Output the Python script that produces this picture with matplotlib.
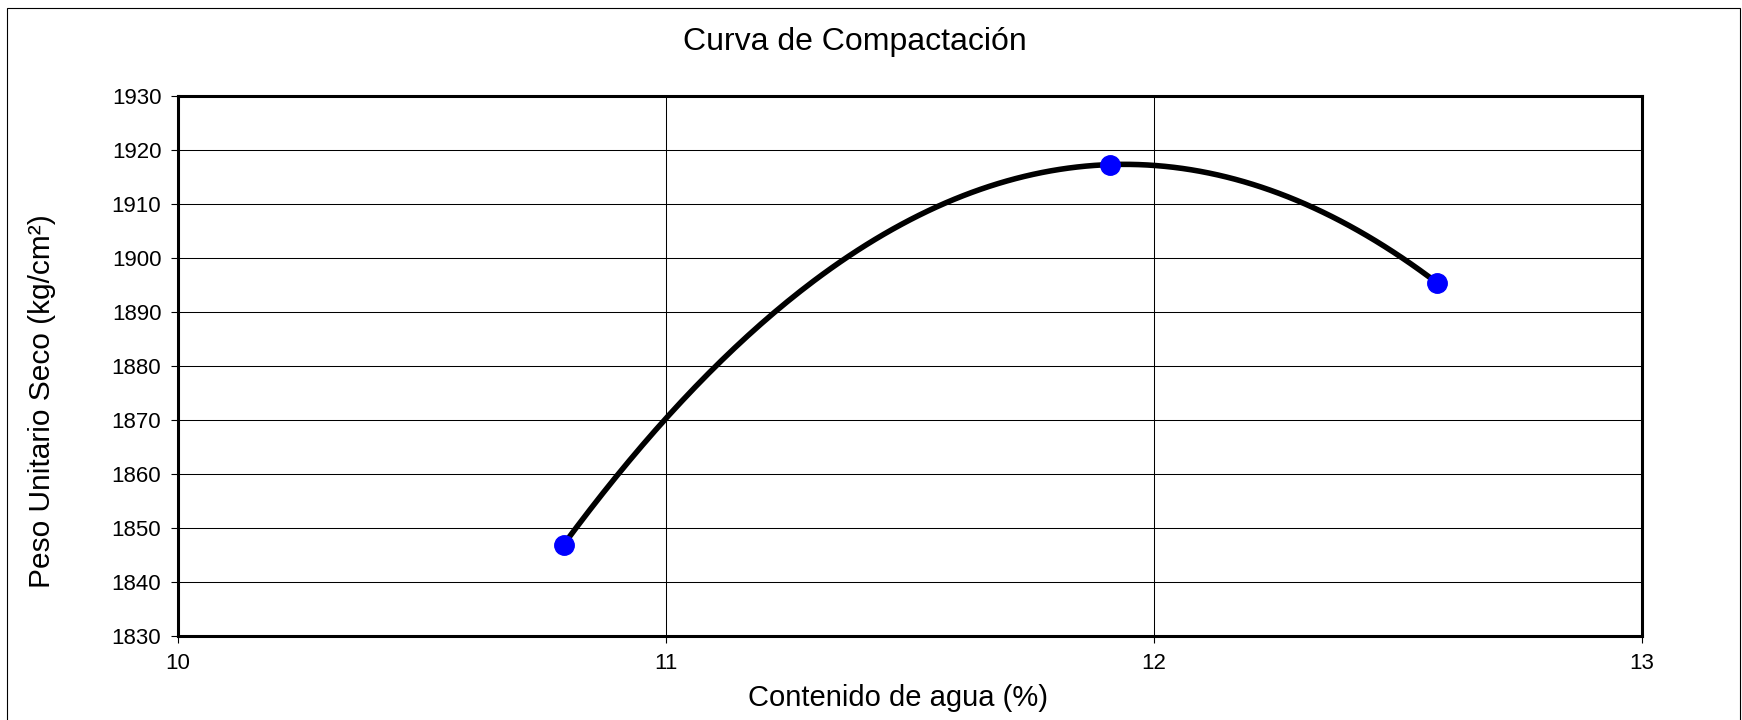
import numpy as np
import matplotlib
matplotlib.use('Agg')
import matplotlib.pyplot as plt
from matplotlib.patches import Rectangle

plt.rcParams['font.family'] = ['Liberation Sans', 'DejaVu Sans']

# datos del ensayo
humedad = [10.79, 11.91, 12.58]
peso_seco = [1846.9, 1917.3, 1895.4]
x_ticks = [10, 11, 12, 13]
y_ticks = list(range(1830, 1931, 10))

W, H = 1742, 720
fig = plt.figure(figsize=(W / 100, H / 100), dpi=100)
ax = fig.add_axes([178 / W, 1 - 636 / H, (1642 - 178) / W, (636 - 96) / H])

ax.set_xlim(10, 13)
ax.set_ylim(1830, 1930)
ax.set_xticks(x_ticks)
ax.set_yticks(y_ticks)
ax.grid(True, color='black', linewidth=0.75)
ax.set_axisbelow(True)
for s in ax.spines.values():
    s.set_linewidth(2.2)
ax.tick_params(direction='out', length=5, width=0.8, labelsize=16, pad=7)

# linea de tendencia polinomica de orden 2
coef = np.polyfit(humedad, peso_seco, 2)
xs = np.linspace(min(humedad), max(humedad), 200)
ax.plot(xs, np.polyval(coef, xs), color='black', linewidth=4, zorder=3)
ax.plot(humedad, peso_seco, 'o', color='#0000ff', markersize=14, zorder=4)

fig.text(855 / W, 1 - 42 / H, 'Curva de Compactación', ha='center', va='center', fontsize=23)
fig.text(898 / W, 1 - 698 / H, 'Contenido de agua (%)', ha='center', va='center', fontsize=21)
fig.text(42 / W, 1 - 401 / H, 'Peso Unitario Seco (kg/cm²)', ha='center', va='center', fontsize=21.5, rotation=90)

fig.patches.append(Rectangle((7 / W, -0.05), (1740 - 7) / W, 1.05 - 8 / H, transform=fig.transFigure,
                             fill=False, edgecolor='black', linewidth=0.8))

fig.savefig('out.png', dpi=100)
